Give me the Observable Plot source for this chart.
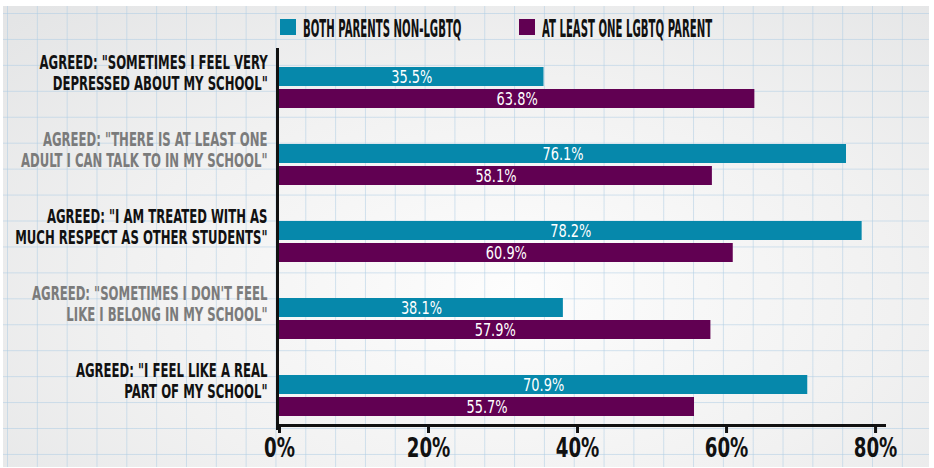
<!DOCTYPE html>
<html><head><meta charset="utf-8">
<script src="https://cdn.jsdelivr.net/npm/d3@7"></script>
<script src="https://cdn.jsdelivr.net/npm/@observablehq/plot@0.6"></script>
<style>
html,body{margin:0;padding:0;background:#fff;}
#wrap{position:relative;width:934px;height:468px;overflow:hidden;}
#paper{position:absolute;left:3px;top:6px;right:5px;bottom:1px;
 background-image:
  linear-gradient(to right, rgba(175,205,228,0.55) 1px, transparent 1px),
  linear-gradient(to bottom, rgba(175,205,228,0.55) 1px, transparent 1px),
  radial-gradient(ellipse 75% 85% at 55% 62%, #fdfdfd 0%, #f1f1f1 55%, #e4e5e6 100%);
 background-size: 29.83px 25.94px, 29.83px 25.94px, 100% 100%;
 background-position: 4px 7px, 4px 7px, 0 0;}
#legend{position:relative;height:48px;}
.sw{position:absolute;top:19px;width:16px;height:16px;}
.lt{position:absolute;top:17px;font-family:"DejaVu Sans Condensed","DejaVu Sans",sans-serif;font-weight:bold;font-size:24px;line-height:24px;color:#111;white-space:nowrap;transform:scaleX(0.47);transform-origin:0 50%;}
#chart{position:relative;}
#chart svg{display:block;overflow:visible;}
</style>
</head><body>
<div id="wrap"><div id="paper"></div><div id="legend"></div><div id="chart"></div></div>
<script>
const categories = [
  'AGREED: "SOMETIMES I FEEL VERY\nDEPRESSED ABOUT MY SCHOOL"',
  'AGREED: "THERE IS AT LEAST ONE\nADULT I CAN TALK TO IN MY SCHOOL"',
  'AGREED: "I AM TREATED WITH AS\nMUCH RESPECT AS OTHER STUDENTS"',
  'AGREED: "SOMETIMES I DON\'T FEEL\nLIKE I BELONG IN MY SCHOOL"',
  'AGREED: "I FEEL LIKE A REAL\nPART OF MY SCHOOL"'
];
const bothNonLgbtq = [35.5, 76.1, 78.2, 38.1, 70.9];
const lgbtqParent = [63.8, 58.1, 60.9, 57.9, 55.7];
const seriesNames = ["BOTH PARENTS NON-LGBTQ", "AT LEAST ONE LGBTQ PARENT"];
const seriesColors = ["#0688ab", "#610052"];
const xTicks = [0, 20, 40, 60, 80];

const FONT = '"DejaVu Sans Condensed", "DejaVu Sans", sans-serif';
const rows = categories.map((c, i) => ({cat: c, a: bothNonLgbtq[i], b: lgbtqParent[i], i}));

// legend
const legend = document.getElementById("legend");
const legendX = [280, 519];
seriesNames.forEach((name, k) => {
  const sw = document.createElement("div");
  sw.className = "sw"; sw.style.left = legendX[k] + "px"; sw.style.background = seriesColors[k];
  const t = document.createElement("div");
  t.className = "lt"; t.style.left = (legendX[k] + 23) + "px"; t.textContent = name;
  legend.append(sw, t);
});

const chart = Plot.plot({
  width: 934, height: 420,
  marginLeft: 279, marginRight: 50, marginTop: 0, marginBottom: 43,
  style: {background: "transparent", fontFamily: FONT, overflow: "visible", color: "#111"},
  x: {domain: [0, 81.2], axis: null},
  y: {domain: categories, range: [17, 371], paddingInner: 0.4615, paddingOuter: 0, axis: null},
  marks: [
    Plot.barX(rows, {y: "cat", x: "a", fill: seriesColors[0], insetBottom: 22}),
    Plot.barX(rows, {y: "cat", x: "b", fill: seriesColors[1], insetTop: 22}),
    Plot.text(rows, {y: "cat", x: d => d.a / 2, text: d => d.a.toFixed(1) + "%", dy: -11, fill: "white", fontSize: 18}),
    Plot.text(rows, {y: "cat", x: d => d.b / 2, text: d => d.b.toFixed(1) + "%", dy: 11, fill: "white", fontSize: 18}),
    Plot.text(rows, {filter: d => d.i % 2 === 0, y: "cat", frameAnchor: "left", text: "cat", textAnchor: "end", dx: -12, dy: -15, lineHeight: 1.05, fontSize: 20, fontWeight: "bold", fill: "#111"}),
    Plot.text(rows, {filter: d => d.i % 2 === 1, y: "cat", frameAnchor: "left", text: "cat", textAnchor: "end", dx: -12, dy: -15, lineHeight: 1.05, fontSize: 20, fontWeight: "bold", fill: "#7b7b7b"}),
    Plot.ruleX([0], {dx: -2, strokeWidth: 3, insetBottom: -5, stroke: "#111"}),
    Plot.frame({anchor: "bottom", strokeWidth: 3, stroke: "#111"}),
    Plot.axisX({ticks: xTicks, tickFormat: d => d + "%", tickSize: 8, tickPadding: 4, strokeWidth: 3, fontSize: 27, fontWeight: "bold", fill: "#111", stroke: "#111"})
  ]
});
document.getElementById("chart").append(chart);

// horizontally condense the text (about its anchor) to mimic the narrow hand-lettered font
function squeeze(fontSize, s, anchor) {
  chart.querySelectorAll(`g[font-size="${fontSize}"] text`).forEach(el => {
    const b = el.getBBox();
    const ax = anchor === "end" ? b.x + b.width : b.x + b.width / 2;
    const t = el.getAttribute("transform") || "";
    el.setAttribute("transform", `${t} translate(${ax},0) scale(${s},1) translate(${-ax},0)`);
  });
}
squeeze(20, 0.65, "end");
squeeze(18, 0.8, "middle");
squeeze(27, 0.75, "middle");
</script>
</body></html>
